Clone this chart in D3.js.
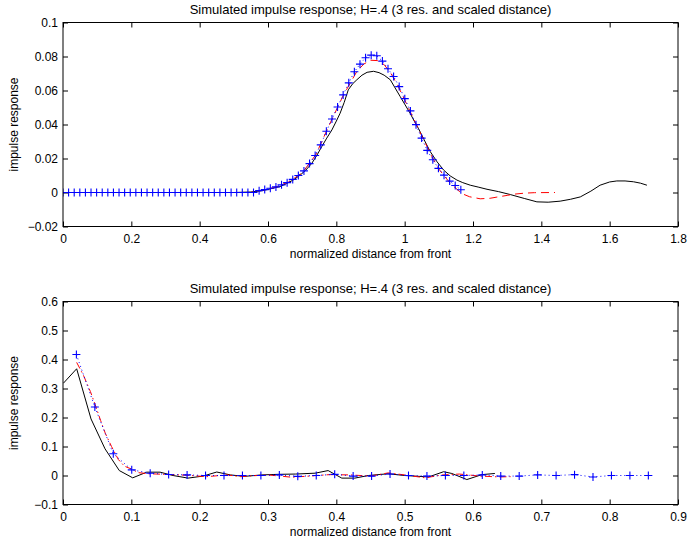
<!DOCTYPE html>
<html><head><meta charset="utf-8">
<script src="https://cdn.jsdelivr.net/npm/d3@7"></script>
<style>
body{margin:0;background:#fff}
text{font-family:"Liberation Sans",Arial,Helvetica,sans-serif;fill:#000}
</style>
</head><body>
<svg id="c" width="689" height="546"></svg>
<script>
// ---------- texts ----------
const titleText = "Simulated impulse response; H=.4 (3 res. and scaled distance)";
const xLabelText = "normalized distance from front";
const yLabelText = "impulse response";

// ---------- top panel ----------
const topXTicks = [0,0.2,0.4,0.6,0.8,1,1.2,1.4,1.6,1.8];
const topYTicks = [-0.02,0,0.02,0.04,0.06,0.08,0.1];

const topBlueX = [0,0.0164,0.0328,0.0492,0.0656,0.082,0.0984,0.1148,0.1312,0.1476,0.164,0.1804,0.1968,0.2132,0.2296,0.246,0.2624,0.2788,0.2952,0.3116,0.328,0.3444,0.3608,0.3772,0.3936,0.41,0.4264,0.4428,0.4592,0.4756,0.492,0.5084,0.5248,0.5412,0.5576,
  0.574,0.5904,0.6068,0.6232,0.6396,0.656,0.6724,0.6888,0.7052,0.7216,0.738,0.7544,0.7708,0.7872,0.8036,0.82,0.8364,0.8528,0.8692,0.8856,0.902,0.9184,0.9348,0.9512,0.9676,0.984,1.0004,1.0168,1.0332,1.0496,1.066,1.0824,1.0988,1.1152,1.1316,1.148,1.1644];
const topBlueY = [0,0,0,0,0,0,0,0,0,0,0,0,0,0,0,0,0,0,0,0,0,0,0,0,0,0,0,0,0,0,0,0,0,0,0,
  0.0011,0.0017,0.0025,0.0033,0.0045,0.0058,0.0077,0.0100,0.0127,0.0170,0.0218,0.0280,0.0360,0.0432,0.0503,0.0574,0.0645,0.0710,0.0755,0.0793,0.0808,0.0804,0.0773,0.0728,0.0682,0.0623,0.0552,0.0480,0.0399,0.0320,0.0248,0.0193,0.0142,0.0102,0.0067,0.0041,0.0016];

const topRedX = [0,0.55,0.58,0.62,0.66,0.70,0.74,0.78,0.82,0.86,0.88,0.90,0.92,0.94,0.96,0.98,1.0,1.04,1.08,1.10,1.133,1.167,1.19,1.221,1.25,1.27,1.3,1.319,1.35,1.38,1.44];
const topRedY = [0,0,0.0012,0.003,0.0062,0.0115,0.0222,0.040,0.057,0.0712,0.0755,0.0778,0.0776,0.0752,0.070,0.0628,0.0545,0.0375,0.021,0.0138,0.0055,-0.0006,-0.0025,-0.0037,-0.0034,-0.0027,-0.0017,-0.001,-0.0004,-0.0001,0];

const topBlackX = [0,0.5,0.55,0.58,0.6,0.62,0.635,0.655,0.675,0.694,0.71,0.728,0.742,0.757,0.772,0.787,0.80,0.811,0.823,0.835,0.848,0.86,0.875,0.89,0.909,0.925,0.94,0.958,0.972,0.987,1.0,1.016,1.028,1.04,1.057,1.075,1.095,1.114,1.133,1.153,1.17,1.192,1.215,1.241,1.275,1.309,1.35,1.387,1.42,1.455,1.485,1.514,1.545,1.572,1.6,1.621,1.645,1.67,1.69,1.709];
const topBlackY = [0,0,0.0003,0.001,0.0018,0.0028,0.0035,0.0053,0.0075,0.0102,0.013,0.0171,0.0215,0.0269,0.032,0.0368,0.042,0.0466,0.053,0.0604,0.064,0.0663,0.069,0.0707,0.0713,0.0705,0.069,0.0663,0.0615,0.0564,0.052,0.0466,0.042,0.0378,0.031,0.024,0.018,0.0132,0.0098,0.0073,0.0058,0.0043,0.0032,0.0019,0.0005,-0.0012,-0.0035,-0.0055,-0.0057,-0.0051,-0.004,-0.0026,0.0008,0.0043,0.0062,0.0068,0.0068,0.0063,0.0055,0.0043];

// ---------- bottom panel ----------
const botXTicks = [0,0.1,0.2,0.3,0.4,0.5,0.6,0.7,0.8,0.9];
const botYTicks = [-0.1,0,0.1,0.2,0.3,0.4,0.5,0.6];

const botBlueX = [0.0196,0.0466,0.0736,0.1006,0.1276,0.1546,0.1816,0.2086,0.2356,0.2626,0.2896,0.3166,0.3436,0.3706,0.3976,0.4246,0.4516,0.4786,0.5056,0.5326,0.5596,0.5866,0.6136,0.6406,0.6676,0.6946,0.7216,0.7486,0.7756,0.8026,0.8296,0.8566];
const botBlueY = [0.417,0.236,0.075,0.0195,0.008,0.0035,0.002,0,0,0,0,0.002,-0.003,0,0.004,-0.002,-0.002,0.005,0,-0.002,0,0,0.002,-0.002,-0.002,0.002,0,0.003,-0.005,0,0,0];

const botRedX = [0.020,0.030,0.040,0.047,0.055,0.062,0.071,0.081,0.090,0.1005,0.11,0.125,0.15,0.18,0.21,0.24,0.26,0.27,0.30,0.335,0.36,0.39,0.42,0.45,0.476,0.50,0.53,0.555,0.58,0.61,0.64,0.655];
const botRedY = [0.39,0.345,0.29,0.245,0.19,0.145,0.10,0.055,0.032,0.022,0.01,0.006,0.004,0.001,-0.004,0.002,-0.004,-0.002,0.002,-0.006,-0.002,0.003,0.002,-0.002,0.009,0.002,-0.008,0.002,0.005,-0.002,-0.005,-0.004];

const botBlackX = [0.0005,0.020,0.041,0.0615,0.0824,0.102,0.1225,0.142,0.161,0.183,0.205,0.225,0.245,0.265,0.291,0.315,0.340,0.369,0.388,0.408,0.427,0.447,0.476,0.500,0.535,0.557,0.569,0.591,0.613,0.632];
const botBlackY = [0.318,0.368,0.195,0.092,0.017,-0.008,0.0115,0.0115,0,-0.009,-0.002,0.012,0.002,-0.003,0.002,0.004,0.005,0.008,0.017,-0.009,-0.009,0,0.006,0,-0.005,0.013,0.007,-0.014,0.003,0.007];

// ---------- drawing ----------
const svg = d3.select("#c");
const L = 63, R = 678;
const fmt = v => (v < 0 ? "\u2212" : "") + String(Math.abs(Math.round(v*1000)/1000));

function zip(xs, ys){ return xs.map((v,i)=>[v, ys[i]]); }

function panel(o){
  const x = d3.scaleLinear().domain([o.xTicks[0], o.xTicks[o.xTicks.length-1]]).range([L,R]);
  const y = d3.scaleLinear().domain([o.yTicks[0], o.yTicks[o.yTicks.length-1]]).range([o.bottom, o.top]);
  const g = svg.append("g");
  const id = "clip"+o.name;
  svg.append("clipPath").attr("id", id).append("rect")
    .attr("x", L).attr("y", o.top).attr("width", R-L).attr("height", o.bottom-o.top);

  const ax = (a, tr, lab) => {
    const s = g.append("g").attr("transform", tr).call(a);
    s.select(".domain").remove();
    s.selectAll("line").attr("stroke","#000").attr("stroke-width",1);
    s.selectAll("text").style("font-size","12px").style("font-family",'"Liberation Sans",Arial,sans-serif');
    if(!lab) s.selectAll("text").remove();
  };
  ax(d3.axisBottom(x).tickValues(o.xTicks).tickFormat(fmt).tickSizeInner(-5).tickSizeOuter(0).tickPadding(8), `translate(0,${o.bottom})`, true);
  ax(d3.axisTop(x).tickValues(o.xTicks).tickSizeInner(-5).tickSizeOuter(0), `translate(0,${o.top})`, false);
  ax(d3.axisLeft(y).tickValues(o.yTicks).tickFormat(fmt).tickSizeInner(-5).tickSizeOuter(0).tickPadding(5), `translate(${L},0)`, true);
  ax(d3.axisRight(y).tickValues(o.yTicks).tickSizeInner(-5).tickSizeOuter(0), `translate(${R},0)`, false);

  const line = d3.line().x(d=>x(d[0])).y(d=>y(d[1]));
  const plot = g.append("g").attr("clip-path", `url(#${id})`);

  plot.append("path").datum(zip(o.blackX,o.blackY)).attr("d", line)
    .attr("fill","none").attr("stroke","#000").attr("stroke-width",1);
  plot.append("path").datum(zip(o.redX,o.redY)).attr("d", line)
    .attr("fill","none").attr("stroke","#ff0000").attr("stroke-width",1)
    .attr("stroke-dasharray", o.redDash);
  plot.append("path").datum(zip(o.blueX,o.blueY)).attr("d", line)
    .attr("fill","none").attr("stroke","#0000ff").attr("stroke-width",1)
    .attr("stroke-dasharray","1,3");
  plot.selectAll("path.mk").data(zip(o.blueX,o.blueY)).enter().append("path")
    .attr("class","mk")
    .attr("transform", d=>`translate(${x(d[0])},${y(d[1])})`)
    .attr("d","M-4,0H4M0,-4V4")
    .attr("stroke","#0000ff").attr("stroke-width",1.1).attr("fill","none");

  g.append("rect").attr("x",L).attr("y",o.top).attr("width",R-L).attr("height",o.bottom-o.top)
    .attr("fill","none").attr("stroke","#000").attr("stroke-width",1);

  g.append("text").attr("x",(L+R)/2).attr("y",o.top-9).attr("text-anchor","middle")
    .style("font-size","13px").text(titleText);
  g.append("text").attr("x",(L+R)/2).attr("y",o.bottom+31).attr("text-anchor","middle")
    .style("font-size","12px").text(xLabelText);
  g.append("text").attr("transform",`translate(18,${(o.top+o.bottom)/2}) rotate(-90)`)
    .attr("text-anchor","middle").style("font-size","12px").text(yLabelText);
}

panel({name:"t", top:22.5, bottom:226.5, xTicks:topXTicks, yTicks:topYTicks,
  blueX:topBlueX, blueY:topBlueY, redX:topRedX, redY:topRedY, blackX:topBlackX, blackY:topBlackY,
  redDash:"8,5"});
panel({name:"b", top:301.5, bottom:504.5, xTicks:botXTicks, yTicks:botYTicks,
  blueX:botBlueX, blueY:botBlueY, redX:botRedX, redY:botRedY, blackX:botBlackX, blackY:botBlackY,
  redDash:"7,3,1.5,3"});
</script>
</body></html>
